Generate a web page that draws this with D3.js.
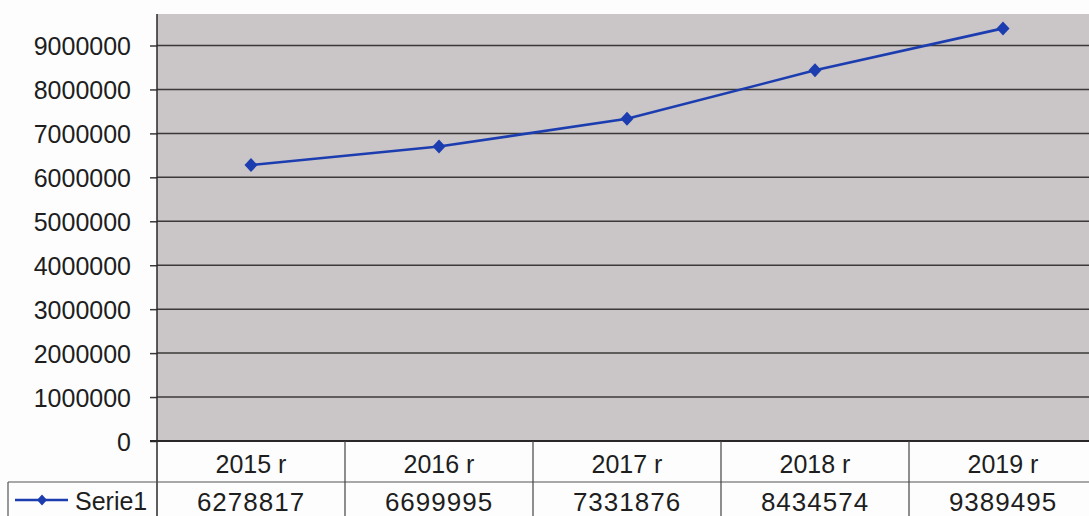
<!DOCTYPE html>
<html><head><meta charset="utf-8">
<script src="https://cdn.jsdelivr.net/npm/d3@7"></script>
<style>
html,body{margin:0;padding:0;background:#fdfdfd;}
svg{display:block;font-family:"Liberation Sans",Arial,sans-serif;}
</style></head>
<body><svg id="c" width="1089" height="516"></svg>
<script>
const categories = ["2015 r","2016 r","2017 r","2018 r","2019 r"];
const seriesName = "Serie1";
const values = [6278817, 6699995, 7331876, 8434574, 9389495];
const yTicks = [0,1000000,2000000,3000000,4000000,5000000,6000000,7000000,8000000,9000000];

const svg = d3.select("#c");
const L = 157, R = 1097, T = 14, B = 441, legL = 8, rowY = 482, H = 516;
const x = d3.scaleBand().domain(categories).range([L, R]);
const y = d3.scaleLinear().domain([0, 9000000]).range([B, 45.5]);

svg.append("rect").attr("x", L).attr("y", T).attr("width", R - L).attr("height", B - T).attr("fill", "#cac5c7");

// gridlines
svg.append("g").selectAll("line").data(yTicks.filter(d => d > 0)).join("line")
  .attr("x1", L).attr("x2", R).attr("y1", d => y(d)).attr("y2", d => y(d))
  .attr("stroke", "#3b3838").attr("stroke-width", 1.5);

// y axis
const yAxis = d3.axisLeft(y).tickValues(yTicks).tickSize(7).tickPadding(19).tickFormat(d => String(d));
const ga = svg.append("g").attr("transform", `translate(${L},0)`).call(yAxis);
ga.select(".domain").remove();
ga.selectAll(".tick line").attr("stroke", "#3b3838").attr("stroke-width", 1.5);
ga.selectAll(".tick text").attr("fill", "#1e1e1e").style("font-size", "25px").attr("dy", "0.36em");

// axis lines
svg.append("line").attr("x1", L).attr("x2", L).attr("y1", T).attr("y2", H).attr("stroke", "#2a2828").attr("stroke-width", 1.5);
svg.append("line").attr("x1", L - 7).attr("x2", R).attr("y1", B).attr("y2", B).attr("stroke", "#2a2828").attr("stroke-width", 1.8);

// table
svg.append("line").attr("x1", legL).attr("x2", R).attr("y1", rowY).attr("y2", rowY).attr("stroke", "#555").attr("stroke-width", 1.2);
svg.append("line").attr("x1", legL).attr("x2", legL).attr("y1", rowY).attr("y2", H).attr("stroke", "#555").attr("stroke-width", 1.2);
svg.append("g").selectAll("line").data(categories.slice(1)).join("line")
  .attr("x1", d => x(d)).attr("x2", d => x(d)).attr("y1", B).attr("y2", H)
  .attr("stroke", "#444").attr("stroke-width", 1.2);

svg.append("g").selectAll("text").data(categories).join("text")
  .attr("x", d => x(d) + x.bandwidth() / 2).attr("y", 473)
  .attr("text-anchor", "middle").attr("fill", "#1e1e1e").style("font-size", "25px").text(d => d);
svg.append("g").selectAll("text").data(values).join("text")
  .attr("x", (d, i) => x(categories[i]) + x.bandwidth() / 2).attr("y", 511)
  .attr("text-anchor", "middle").attr("fill", "#1e1e1e").style("font-size", "26px")
  .style("letter-spacing", "1px").text(d => String(d));

// legend
const lineColor = "#1c3db0";
const diamondPath = (w, h) => `M0,${-h/2}L${w/2},0L0,${h/2}L${-w/2},0Z`;
svg.append("line").attr("x1", 15).attr("x2", 68).attr("y1", 500).attr("y2", 500).attr("stroke", lineColor).attr("stroke-width", 2.5);
svg.append("path").attr("d", diamondPath(10, 11)).attr("transform", "translate(42,500)").attr("fill", lineColor);
svg.append("text").attr("x", 75).attr("y", 510).attr("fill", "#1e1e1e").style("font-size", "25px").text(seriesName);

// series
const line = d3.line().x((d, i) => x(categories[i]) + x.bandwidth() / 2).y(d => y(d));
svg.append("path").datum(values).attr("d", line).attr("fill", "none").attr("stroke", lineColor).attr("stroke-width", 2.6);
svg.append("g").selectAll("path").data(values).join("path")
  .attr("d", diamondPath(13, 14))
  .attr("transform", (d, i) => `translate(${x(categories[i]) + x.bandwidth() / 2},${y(d)})`)
  .attr("fill", lineColor);
</script></body></html>
